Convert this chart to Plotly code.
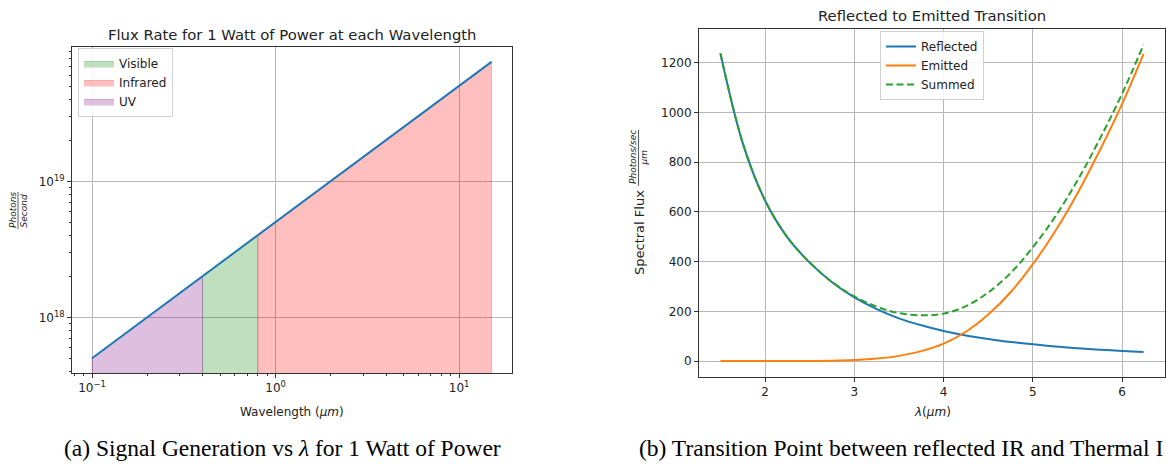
import plotly.graph_objects as go

# ---------------- data: (a) flux rate per watt ----------------
WAVELENGTH_UM = [0.1, 0.4, 0.8, 15.0]
PHOTON_RATE = [5.03e17, 2.01e18, 4.03e18, 7.55e19]
BAND_NAMES = ["Visible", "Infrared", "UV"]
BAND_START_IDX = [1, 2, 0]
BAND_END_IDX = [2, 3, 1]
BAND_COLORS = ["rgba(0,128,0,0.25)", "rgba(255,0,0,0.25)", "rgba(128,0,128,0.25)"]
FILL_BASE = 1e17  # fills run down past the bottom of the axis
A_XTICK_VALS = [0.1, 1.0, 10.0]
A_XTICK_TEXT = ["10<sup>−1</sup>", "10<sup>0</sup>", "10<sup>1</sup>"]
A_YTICK_VALS = [1e18, 1e19]
A_YTICK_TEXT = ["10<sup>18</sup>", "10<sup>19</sup>"]

# ---------------- data: (b) reflected / emitted ----------------
LAMBDA_UM = [1.5, 1.75, 2.0, 2.25, 2.5, 2.75, 3.0, 3.25, 3.5, 3.75,
             4.0, 4.25, 4.5, 4.75, 5.0, 5.25, 5.5, 5.75, 6.0, 6.24]
REFLECTED = [1238, 877, 646, 498, 396, 317, 256, 209, 172, 144,
             121, 103, 89, 77, 68, 59, 52, 46, 41, 37]
EMITTED = [0, 0, 0, 0, 0.5, 1.5, 4, 10, 21, 40,
           70, 118, 187, 277, 390, 522, 675, 848, 1035, 1236]
SUMMED = [r + e for r, e in zip(REFLECTED, EMITTED)]
B_XTICKS = [2, 3, 4, 5, 6]
B_YTICKS = [0, 200, 400, 600, 800, 1000, 1200]

W, H = 1166, 464
FONT = "DejaVu Sans"
SERIF = "Liberation Serif"


def px(x):
    return x / W


def py(y):
    return 1 - y / H


fig = go.Figure()

# (a) band fills as closed regions under the line
for name, i0, i1, col in zip(BAND_NAMES, BAND_START_IDX, BAND_END_IDX, BAND_COLORS):
    xs = WAVELENGTH_UM[i0:i1 + 1]
    ys = PHOTON_RATE[i0:i1 + 1]
    fig.add_trace(go.Scatter(
        x=[xs[0]] + xs + [xs[-1]], y=[FILL_BASE] + ys + [FILL_BASE],
        mode="lines", fill="toself", fillcolor=col,
        line=dict(color=col, width=1), name=name,
        xaxis="x", yaxis="y", legend="legend"))
fig.add_trace(go.Scatter(
    x=WAVELENGTH_UM, y=PHOTON_RATE, mode="lines",
    line=dict(color="#1f77b4", width=2), showlegend=False,
    xaxis="x", yaxis="y"))

# (b) lines
fig.add_trace(go.Scatter(x=LAMBDA_UM, y=REFLECTED, mode="lines", name="Reflected",
                         line=dict(color="#1f77b4", width=2, shape="spline"),
                         xaxis="x2", yaxis="y2", legend="legend2"))
fig.add_trace(go.Scatter(x=LAMBDA_UM, y=EMITTED, mode="lines", name="Emitted",
                         line=dict(color="#ff7f0e", width=2, shape="spline"),
                         xaxis="x2", yaxis="y2", legend="legend2"))
fig.add_trace(go.Scatter(x=LAMBDA_UM, y=SUMMED, mode="lines", name="Summed",
                         line=dict(color="#2ca02c", width=2, shape="spline", dash="7px,3.5px"),
                         xaxis="x2", yaxis="y2", legend="legend2"))

minor_x = [d * 10.0 ** e for e in (-2, -1, 0, 1) for d in range(2, 10)]
minor_y = [d * 10.0 ** e for e in (17, 18, 19) for d in range(2, 10)]

axis_common = dict(showline=True, linecolor="#333", linewidth=1, mirror=True,
                   showgrid=True, gridcolor="#b8b8b8", gridwidth=1, zeroline=False,
                   ticks="outside", ticklen=4, tickcolor="#333",
                   tickfont=dict(family=FONT, size=12, color="#222"))

fig.update_layout(
    width=W, height=H, margin=dict(l=0, r=0, t=0, b=0),
    paper_bgcolor="white", plot_bgcolor="white",
    font=dict(family=FONT, size=12, color="#222"),
    xaxis=dict(type="log", domain=[px(72), px(512)], anchor="y",
               range=[-1.109, 1.288], tickvals=A_XTICK_VALS, ticktext=A_XTICK_TEXT,
               minor=dict(tickvals=minor_x, ticks="outside", ticklen=2, tickcolor="#333", showgrid=False),
               **axis_common),
    yaxis=dict(type="log", domain=[py(373), py(47)], anchor="x",
               range=[17.593, 19.987], tickvals=A_YTICK_VALS, ticktext=A_YTICK_TEXT,
               minor=dict(tickvals=minor_y, ticks="outside", ticklen=2, tickcolor="#333", showgrid=False),
               **axis_common),
    xaxis2=dict(domain=[px(699), px(1165)], anchor="y2", range=[1.26, 6.48],
                tickvals=B_XTICKS, **axis_common),
    yaxis2=dict(domain=[py(377), py(29)], anchor="x2", range=[-64, 1336],
                tickvals=B_YTICKS, **axis_common),
    legend=dict(x=px(78), y=py(48), xanchor="left", yanchor="top",
                bgcolor="rgba(255,255,255,0.85)", bordercolor="#d0d0d0", borderwidth=1,
                font=dict(family=FONT, size=12, color="#222"), tracegroupgap=0),
    legend2=dict(x=px(932), y=py(31), xanchor="center", yanchor="top",
                 bgcolor="rgba(255,255,255,0.85)", bordercolor="#d0d0d0", borderwidth=1,
                 font=dict(family=FONT, size=12, color="#222"), tracegroupgap=0),
)

ann = []
# titles
ann.append(dict(text="Flux Rate for 1 Watt of Power at each Wavelength", x=px(292), y=py(34),
                font=dict(size=14.8)))
ann.append(dict(text="Reflected to Emitted Transition", x=px(932), y=py(16),
                font=dict(size=14.8)))
# axis titles
ann.append(dict(text="Wavelength (<i>µm</i>)", x=px(292), y=py(412), font=dict(size=12)))
ann.append(dict(text="<i>λ</i>(<i>µm</i>)", x=px(932), y=py(412), font=dict(size=12)))
# left y label fraction
ann.append(dict(text="<i>Photons</i>", x=px(13), y=py(210), textangle=-90, font=dict(size=9)))
ann.append(dict(text="<i>Second</i>", x=px(23.5), y=py(211), textangle=-90, font=dict(size=9)))
# right y label
ann.append(dict(text="Spectral Flux", x=px(639), y=py(232), textangle=-90, font=dict(size=13)))
ann.append(dict(text="<i>Photons/sec</i>", x=px(633), y=py(157), textangle=-90, font=dict(size=9)))
ann.append(dict(text="<i>µm</i>", x=px(643.5), y=py(158), textangle=-90, font=dict(size=9)))
# captions
ann.append(dict(text="(a) Signal Generation vs <i>λ</i> for 1 Watt of Power", x=px(62), y=py(448),
                xanchor="left", font=dict(family=SERIF, size=23.5, color="black")))
ann.append(dict(text="(b) Transition Point between reflected IR and Thermal I", x=px(637), y=py(448),
                xanchor="left", font=dict(family=SERIF, size=23.5, color="black")))
for a in ann:
    a.setdefault("xanchor", "center")
    a.update(xref="paper", yref="paper", yanchor="middle", showarrow=False)
fig.update_layout(annotations=ann)

# fraction bars
fig.update_layout(shapes=[
    dict(type="line", xref="paper", yref="paper", x0=px(18), x1=px(18), y0=py(192), y1=py(229),
         line=dict(color="#333", width=0.8)),
    dict(type="line", xref="paper", yref="paper", x0=px(638.5), x1=px(638.5), y0=py(130), y1=py(186),
         line=dict(color="#333", width=0.8)),
])

fig.write_html("out.html")
